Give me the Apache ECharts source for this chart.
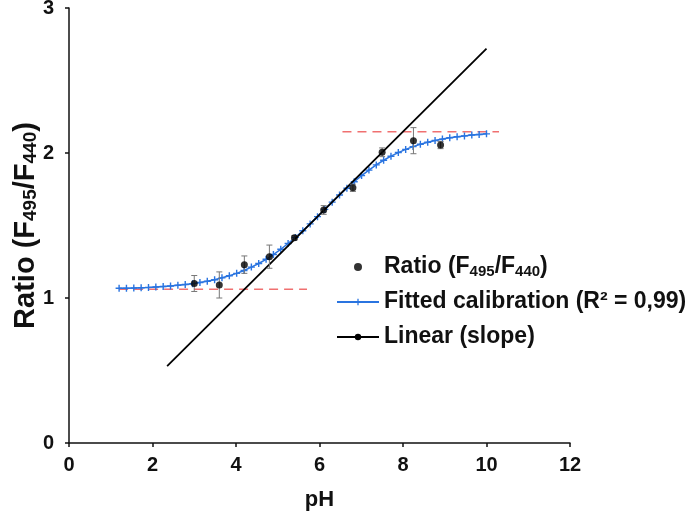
<!DOCTYPE html>
<html><head><meta charset="utf-8">
<script src="https://cdn.jsdelivr.net/npm/echarts@6/dist/echarts.min.js"></script>
<style>html,body{margin:0;padding:0;background:#fff}#c{width:693px;height:516px}</style>
</head><body><div id="c"></div>
<script>
const xTicks = [0, 2, 4, 6, 8, 10, 12];
const yTicks = [0, 1, 2, 3];
const pointPH = [3.0, 3.6, 4.2, 4.8, 5.4, 6.1, 6.8, 7.5, 8.25, 8.9];
const pointRatio = [1.10, 1.09, 1.23, 1.285, 1.415, 1.607, 1.76, 2.005, 2.085, 2.055];
const pointErr = [0.055, 0.09, 0.06, 0.08, 0.015, 0.03, 0.025, 0.03, 0.09, 0.025];
const fitPH = [1.2, 1.376, 1.552, 1.728, 1.904, 2.08, 2.256, 2.432, 2.608, 2.784, 2.96, 3.136, 3.312, 3.488, 3.664, 3.84, 4.016, 4.192, 4.368, 4.544, 4.72, 4.896, 5.072, 5.248, 5.424, 5.6, 5.776, 5.952, 6.128, 6.304, 6.48, 6.656, 6.832, 7.008, 7.184, 7.36, 7.536, 7.712, 7.888, 8.064, 8.24, 8.416, 8.592, 8.768, 8.944, 9.12, 9.296, 9.472, 9.648, 9.824, 10.0];
const fitRatio = [1.067,1.068,1.069,1.071,1.073,1.076,1.079,1.083,1.088,1.093,
  1.099,1.107,1.116,1.126,1.139,1.153,1.170,1.190,1.213,1.238,
  1.267,1.300,1.336,1.376,1.418,1.464,1.511,1.561,1.611,1.661,
  1.710,1.757,1.802,1.844,1.882,1.918,1.950,1.978,2.003,2.025,
  2.044,2.060,2.074,2.086,2.096,2.105,2.112,2.118,2.124,2.128,2.132];
const linearPH = [2.35, 10.0];
const linearRatio = [0.53, 2.72];
const lowerRefPH = [1.2, 5.7];
const lowerRefRatio = [1.06, 1.06];
const upperRefPH = [6.55, 10.3];
const upperRefRatio = [2.147, 2.147];

const FONT = '"Liberation Sans", Arial, sans-serif';
const pair = (xs, ys) => xs.map((x, i) => [x, ys[i]]);
const chart = echarts.init(document.getElementById('c'), null, {renderer: 'canvas'});
const axisCommon = {
  axisLine: {show: true, onZero: false, lineStyle: {color: '#111', width: 1.5}},
  axisTick: {show: true, length: 4, lineStyle: {color: '#111', width: 1.5}},
  splitLine: {show: false},
  axisLabel: {color: '#111', fontSize: 20, fontWeight: 'bold', fontFamily: FONT}
};
chart.setOption({
  animation: false,
  grid: {left: 69, right: 123, top: 8, bottom: 73, containLabel: false, outerBoundsMode: 'none'},
  legend: {
    orient: 'vertical', left: 331, top: 250, itemGap: 11, itemWidth: 42, itemHeight: 8,
    data: ['Ratio (F495/F440)', 'Fitted calibration (R\u00b2 = 0,99)', 'Linear (slope)'],
    formatter: n => n === 'Ratio (F495/F440)' ? 'Ratio (F{s|495}/F{s|440})' : n,
    textStyle: {color: '#111', fontSize: 23, lineHeight: 24, fontWeight: 'bold', fontFamily: FONT,
      rich: {s: {fontSize: 15, lineHeight: 24, fontWeight: 'bold', fontFamily: FONT, color: '#111', verticalAlign: 'bottom', padding: [9, 0, 0, 0]}}}
  },
  xAxis: Object.assign({}, axisCommon, {
    type: 'value', min: xTicks[0], max: xTicks[xTicks.length - 1], interval: xTicks[1] - xTicks[0],
    name: 'pH', nameLocation: 'middle', nameGap: 46, nameMoveOverlap: false,
    nameTextStyle: {color: '#111', fontSize: 22, fontWeight: 'bold', fontFamily: FONT},
    axisLabel: Object.assign({}, axisCommon.axisLabel, {margin: 12})
  }),
  yAxis: Object.assign({}, axisCommon, {
    type: 'value', min: yTicks[0], max: yTicks[yTicks.length - 1], interval: yTicks[1] - yTicks[0],
    name: 'Ratio (F{s|495}/F{s|440})', nameLocation: 'middle', nameGap: 29, nameRotate: 90, nameMoveOverlap: false,
    nameTextStyle: {color: '#111', fontSize: 29, fontWeight: 'bold', fontFamily: FONT,
      rich: {s: {fontSize: 19, fontWeight: 'bold', fontFamily: FONT, color: '#111', verticalAlign: 'bottom', padding: [10, 0, 0, 0]}}},
    axisLabel: Object.assign({}, axisCommon.axisLabel, {margin: 15})
  }),
  series: [
    {type: 'line', data: pair(lowerRefPH, lowerRefRatio), symbol: 'none', silent: true,
      lineStyle: {color: '#f07070', width: 1.5, type: [9, 6]}, z: 1},
    {type: 'line', data: pair(upperRefPH, upperRefRatio), symbol: 'none', silent: true,
      lineStyle: {color: '#f07070', width: 1.5, type: [9, 6]}, z: 1},
    {name: 'Fitted calibration (R\u00b2 = 0,99)', type: 'line', data: pair(fitPH, fitRatio),
      symbol: 'path://M4,0H6V4H10V6H6V10H4V6H0V4H4Z', symbolSize: 7, showAllSymbol: true,
      lineStyle: {color: '#2a74e0', width: 1.5}, itemStyle: {color: '#2a74e0'}, z: 2},
    {name: 'Linear (slope)', type: 'line', data: pair(linearPH, linearRatio), symbol: 'none',
      lineStyle: {color: '#000', width: 1.8}, itemStyle: {color: '#000'}, z: 3},
    {type: 'custom', data: pointPH.map((x, i) => [x, pointRatio[i], pointErr[i]]), z: 4, silent: true,
      renderItem: (params, api) => {
        const x = api.value(0), y = api.value(1), e = api.value(2);
        const t = api.coord([x, y + e]), b = api.coord([x, y - e]);
        const st = {stroke: '#777', lineWidth: 1};
        return {type: 'group', children: [
          {type: 'line', shape: {x1: t[0], y1: t[1], x2: b[0], y2: b[1]}, style: st},
          {type: 'line', shape: {x1: t[0] - 3, y1: t[1], x2: t[0] + 3, y2: t[1]}, style: st},
          {type: 'line', shape: {x1: b[0] - 3, y1: b[1], x2: b[0] + 3, y2: b[1]}, style: st}
        ]};
      }},
    {name: 'Ratio (F495/F440)', type: 'scatter', data: pair(pointPH, pointRatio), symbol: 'circle', symbolSize: 7,
      itemStyle: {color: '#000'}, z: 5}
  ]
});
</script></body></html>
